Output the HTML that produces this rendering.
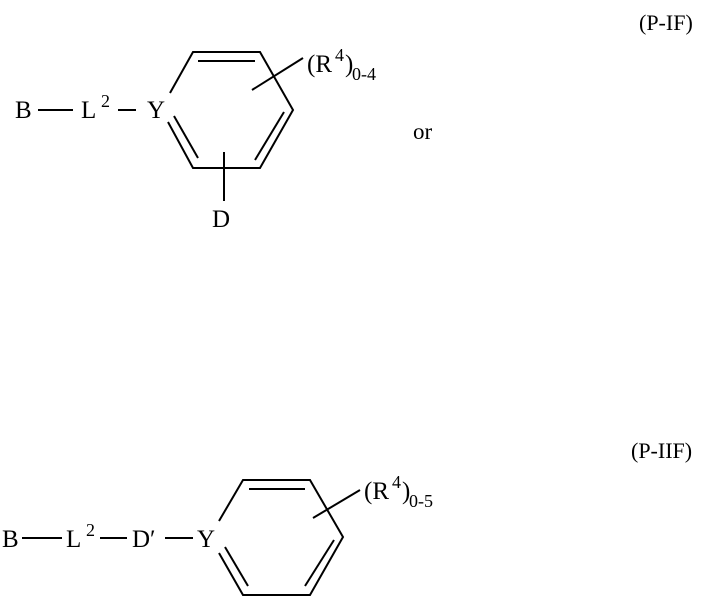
<!DOCTYPE html>
<html><head><style>body{margin:0;background:#fff}svg{display:block}text{font-family:"Liberation Serif",serif;fill:#000}</style></head><body>
<svg width="713" height="597" viewBox="0 0 713 597" stroke="#000" stroke-width="2" fill="none">
<g font-size="25" stroke="none">
<text x="639" y="30" font-size="22">(P-IF)</text>
<text x="15" y="118">B</text>
<text x="81" y="118">L</text><text x="101" y="107" font-size="18">2</text>
<text x="147" y="118">Y</text>
<text x="307" y="72">(R</text><text x="335" y="61" font-size="18">4</text><text x="345" y="72">)</text><text x="352" y="80" font-size="18">0-4</text>
<text x="212" y="227">D</text>
<text x="413" y="139" font-size="23">or</text>
<text x="631" y="458" font-size="22">(P-IIF)</text>
<text x="2" y="547">B</text>
<text x="66" y="547">L</text><text x="86" y="536" font-size="18">2</text>
<text x="132" y="547">D′</text>
<text x="197" y="547">Y</text>
<text x="364" y="499">(R</text><text x="392" y="488" font-size="18">4</text><text x="402" y="499">)</text><text x="409" y="507" font-size="18">0-5</text>
</g>
<line x1="38" y1="110" x2="73" y2="110"/><line x1="118" y1="110" x2="136" y2="110"/>
<polyline points="170,93 193,52 260,52 293,110 260,168 193,168 168,122"/>
<line x1="198" y1="61" x2="255" y2="61"/><line x1="284" y1="112" x2="255" y2="160"/><line x1="174" y1="116" x2="198" y2="158"/>
<line x1="252" y1="90" x2="303" y2="58"/><line x1="224" y1="152" x2="224" y2="201"/>
<line x1="22" y1="538" x2="62" y2="538"/><line x1="100" y1="538" x2="127" y2="538"/><line x1="165" y1="538" x2="193" y2="538"/>
<polyline points="219,521 243,480 310,480 343,537 310,595 243,595 219,553"/>
<line x1="249" y1="489" x2="305" y2="489"/><line x1="334" y1="540" x2="305" y2="586"/><line x1="225" y1="547" x2="248" y2="586"/>
<line x1="313" y1="518" x2="360" y2="490"/>
</svg>
</body></html>
